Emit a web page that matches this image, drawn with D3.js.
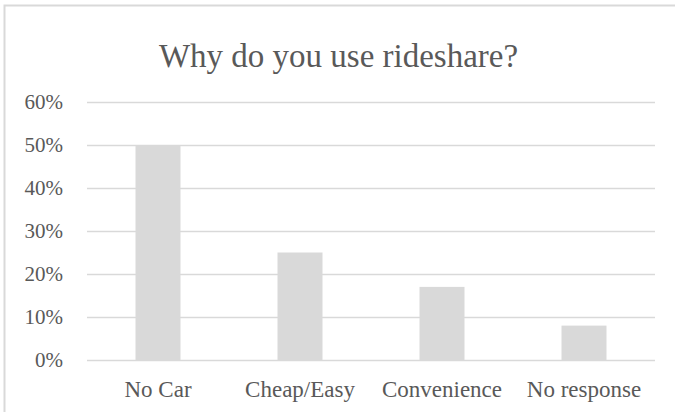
<!DOCTYPE html>
<html><head><meta charset="utf-8">
<script src="https://cdn.jsdelivr.net/npm/d3@7"></script>
<style>html,body{margin:0;padding:0;background:#fff;overflow:hidden}
svg text{font-family:"Liberation Serif","Times New Roman",Times,"DejaVu Serif",serif;}</style>
</head><body>
<svg id="c" width="675" height="412"></svg>
<script>
const title = "Why do you use rideshare?";
const categories = ["No Car", "Cheap/Easy", "Convenience", "No response"];
const values = [0.50, 0.25, 0.17, 0.08];
const yTicks = [0, 0.1, 0.2, 0.3, 0.4, 0.5, 0.6];

const svg = d3.select("#c");
const W = 675, H = 412;
const m = {left: 87, right: 20, top: 102, bottom: 52};
const textCol = "#595959", gridCol = "#d9d9d9", barCol = "#d9d9d9";
const font = "Liberation Serif";

svg.append("rect").attr("x", 4.5).attr("y", 5.5).attr("width", W + 10).attr("height", H + 10)
  .attr("fill", "#fff").attr("stroke", "#d9d9d9").attr("stroke-width", 2);

const x = d3.scaleBand().domain(categories).range([m.left, W - m.right]).padding(0);
const y = d3.scaleLinear().domain([0, 0.6]).range([H - m.bottom, m.top]);

svg.append("g").selectAll("line").data(yTicks).join("line")
  .attr("x1", m.left).attr("x2", W - m.right)
  .attr("y1", d => Math.round(y(d)) + 0.5).attr("y2", d => Math.round(y(d)) + 0.5)
  .attr("stroke", gridCol).attr("stroke-width", 1.5);

const yAxis = d3.axisLeft(y).tickValues(yTicks).tickFormat(d3.format(".0%")).tickSize(0).tickPadding(24);
const yg = svg.append("g").attr("transform", `translate(${m.left},0)`).call(yAxis)
  .attr("font-family", font).attr("font-size", 21);
yg.select(".domain").remove();
yg.selectAll("text").attr("fill", textCol);

const bw = x.bandwidth() * 0.317;
svg.append("g").selectAll("rect").data(values).join("rect")
  .attr("x", (d, i) => x(categories[i]) + x.bandwidth() / 2 - bw / 2)
  .attr("width", bw)
  .attr("y", d => y(d))
  .attr("height", d => y(0) - y(d))
  .attr("fill", barCol);

const xAxis = d3.axisBottom(x).tickSize(0).tickPadding(21);
const xg = svg.append("g").attr("transform", `translate(0,${y(0)})`).call(xAxis)
  .attr("font-family", font).attr("font-size", 23);
xg.select(".domain").remove();
xg.selectAll("text").attr("fill", textCol);

svg.append("text").attr("x", W / 2 + 1).attr("y", 67)
  .attr("text-anchor", "middle").attr("fill", textCol)
  .attr("font-family", font).attr("font-size", 33).text(title);
</script>
</body></html>
